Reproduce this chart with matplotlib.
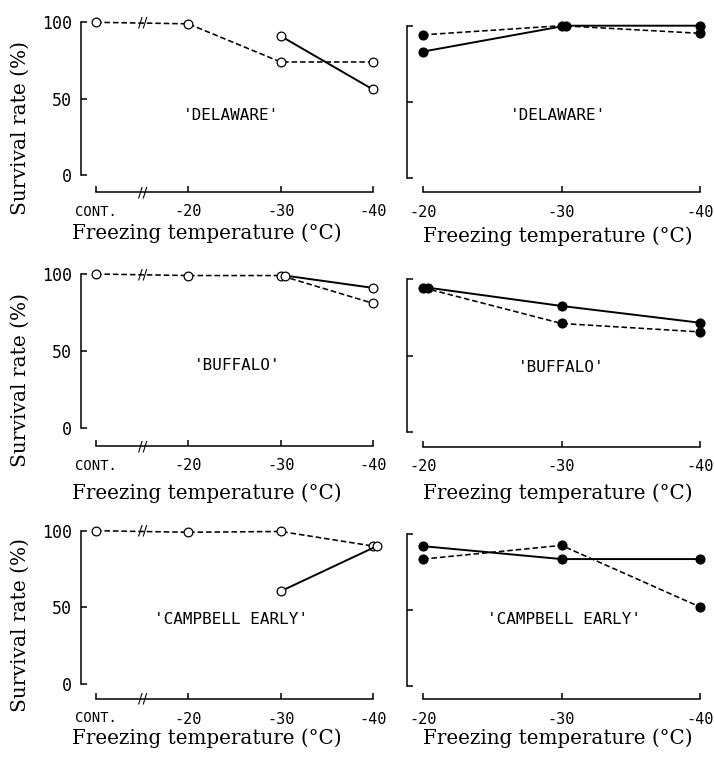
import matplotlib
matplotlib.use('Agg')
import matplotlib.pyplot as plt

W, H = 714, 760

# cultivars, one per row
cultivars = ["'DELAWARE'", "'BUFFALO'", "'CAMPBELL EARLY'"]

# left column (open circles); CONT. = unfrozen control
left_temps = ['CONT.', -20, -30, -40]
left_dashed = [[100, 99, 74, 74], [100, 99, 99, 81], [100, 99, 99.5, 90]]
left_solid_temps = [-30, -40]
left_solid = [[91, 56], [99, 91], [60.5, 90]]

# right column (filled circles)
right_temps = [-20, -30, -40]
right_solid = [[83, 100, 100], [94.5, 82.5, 71.5], [92, 83.5, 83.5]]
right_dashed = [[94, 100, 95], [94.5, 71, 65.5], [83.5, 92.5, 52]]

yticks = [0, 50, 100]
xlabel = 'Freezing temperature (\u00b0C)'
ylabel = 'Survival rate (%)'

CONT_POS = -10  # where the control sits on the temperature axis

# layout in pixels: (top of 100, bottom of 0, x-axis line)
left_rows = [(22.3, 175, 192), (274, 428.3, 446), (530.7, 684, 699)]
right_rows = [(25.7, 178, 192.3), (279.3, 431.7, 446.7), (534, 686, 699)]
left_cols = (81, 380, 96, 373)     # axes left, right, px of CONT, px of -40
right_cols = (407, 708, 423, 700)  # axes left, right, px of -20, px of -40
# small sideways nudges (px) so overlapping dots show side by side
left_nudge = [[0, 0], [4, 0], [0, 4]]
right_nudge = [[0, 4, 0], [5, 0, 0], [0, 0, 0]]

# label positions (px centres)
xlabel_pos = [((207, 233), (558, 236)), ((207, 493), (558, 493)), ((207, 738), (558, 738))]
ylabel_pos = [(20, 128), (20, 380), (20, 625)]
name_pos = [((231, 115), (558, 115)), ((237, 365), (561, 368)), ((231, 620), (564, 620))]

MONO = 'DejaVu Sans Mono'
SERIF = 'DejaVu Serif'

fig = plt.figure(figsize=(W / 100, H / 100), dpi=100)


def px(x, y):
  return x / W, 1 - y / H


def make_axes(cols, row, t_first, t_last):
  x0, x1, p_first, p_last = cols
  top, bot, line = row
  scale = (p_last - p_first) / (t_first - t_last)  # px per degree
  ax = fig.add_axes([x0 / W, 1 - bot / H, (x1 - x0) / W, (bot - top) / H])
  ax.set_xlim(t_first + (p_first - x0) / scale, t_last - (x1 - p_last) / scale)
  ax.set_ylim(0, 100)
  ax.patch.set_visible(False)
  for s in ('top', 'right'):
    ax.spines[s].set_visible(False)
  ax.spines['left'].set_bounds(0, 100)
  ax.spines['bottom'].set_position(('outward', (line - bot) * 0.72))
  ax.spines['bottom'].set_bounds(t_first, t_last)
  for s in ('left', 'bottom'):
    ax.spines[s].set_linewidth(1.1)
  ax.tick_params(direction='in', length=4, width=1.1)
  ax.tick_params(axis='x', pad=9)
  ax.tick_params(axis='y', pad=6.5)
  ax.set_yticks(yticks)
  return ax, scale


dash = (0, (3.5, 1.8))
for r in range(3):
  # ---- left panel
  ax, scale = make_axes(left_cols, left_rows[r], CONT_POS, -40)
  xs = [CONT_POS if t == 'CONT.' else t for t in left_temps]
  ax.plot(xs, left_dashed[r], linestyle=dash, color='black', lw=1.15,
          marker='o', ms=6.3, mfc='white', mec='black', mew=0.9, clip_on=False, zorder=3)
  xs2 = [t - n / scale for t, n in zip(left_solid_temps, left_nudge[r])]
  ax.plot(xs2, left_solid[r], '-', color='black', lw=1.4,
          marker='o', ms=6.3, mfc='white', mec='black', mew=0.9, clip_on=False, zorder=4)
  ax.set_xticks(xs)
  ax.set_xticklabels([str(t) for t in left_temps], family=MONO, fontsize=11)
  ax.get_xticklabels()[0].set_fontsize(10)
  ax.set_yticklabels([str(v) for v in yticks], family=MONO, fontsize=12)
  brk = (CONT_POS - 20) / 2
  ax.text(brk, left_dashed[r][0], '//', ha='center', va='center', fontsize=10,
          family='DejaVu Sans', zorder=5)
  off = (left_rows[r][2] - left_rows[r][1]) * 0.72
  ax.annotate('//', xy=(brk, 0), xycoords=ax.get_xaxis_transform(),
              xytext=(0, -off), textcoords='offset points',
              ha='center', va='center', fontsize=10, family='DejaVu Sans',
              annotation_clip=False)

  # ---- right panel
  ax, scale = make_axes(right_cols, right_rows[r], -20, -40)
  ax.plot(right_temps, right_dashed[r], linestyle=dash, color='black', lw=1.15,
          marker='o', ms=6.3, mfc='black', mec='black', clip_on=False, zorder=3)
  xs2 = [t - n / scale for t, n in zip(right_temps, right_nudge[r])]
  ax.plot(xs2, right_solid[r], '-', color='black', lw=1.4,
          marker='o', ms=6.3, mfc='black', mec='black', clip_on=False, zorder=4)
  ax.set_xticks(right_temps)
  ax.set_xticklabels([str(t) for t in right_temps], family=MONO, fontsize=11)
  ax.set_yticklabels([])

  # labels
  for c in range(2):
    fig.text(*px(*xlabel_pos[r][c]), xlabel, family=SERIF, fontsize=14.3,
             ha='center', va='center')
    fig.text(*px(*name_pos[r][c]), cultivars[r], family=MONO, fontsize=11.5,
             ha='center', va='center')
  fig.text(*px(*ylabel_pos[r]), ylabel, family=SERIF, fontsize=14.5,
           rotation=90, ha='center', va='center')

fig.savefig('out.png', dpi=100, facecolor='white')
